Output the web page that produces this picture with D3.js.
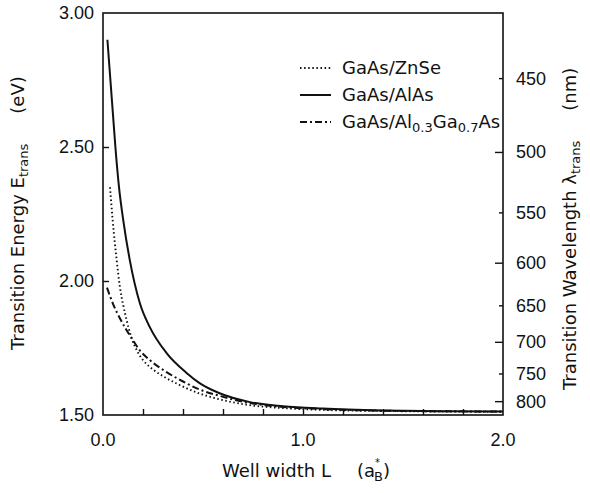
<!DOCTYPE html>
<html>
<head>
<meta charset="utf-8">
<script src="https://cdn.jsdelivr.net/npm/d3@7"></script>
<style>
  body { margin: 0; background: white; }
  #chart { width: 590px; height: 493px; }
  text { font-family: "DejaVu Sans", sans-serif; fill: #111; }
  text.num { font-family: "Liberation Sans", Arial, sans-serif; }
</style>
</head>
<body>
<div id="chart"></div>
<script>
// Well width L (a_B*) and transition energy (eV)
const alasL = [0.022, 0.05, 0.062, 0.08, 0.101, 0.134, 0.184, 0.234, 0.318, 0.418, 0.483, 0.58, 0.73, 0.9, 1.1, 1.4, 1.7, 2.0];
const alasE = [2.90, 2.62, 2.50, 2.35, 2.228, 2.078, 1.918, 1.828, 1.731, 1.657, 1.619, 1.582, 1.549, 1.533, 1.524, 1.517, 1.514, 1.513];

const znseL = [0.035, 0.048, 0.068, 0.085, 0.101, 0.118, 0.143, 0.17, 0.2, 0.25, 0.3, 0.383, 0.483, 0.58, 0.73, 0.9, 1.1, 1.4, 1.7, 2.0];
const znseE = [2.35, 2.23, 2.08, 1.975, 1.91, 1.854, 1.787, 1.74, 1.705, 1.67, 1.645, 1.612, 1.58, 1.559, 1.537, 1.526, 1.519, 1.515, 1.513, 1.512];

const algaL = [0.02, 0.05, 0.085, 0.115, 0.143, 0.18, 0.234, 0.318, 0.40, 0.483, 0.58, 0.73, 0.9, 1.1, 1.4, 1.7, 2.0];
const algaE = [1.975, 1.915, 1.86, 1.82, 1.787, 1.745, 1.705, 1.66, 1.625, 1.595, 1.572, 1.545, 1.530, 1.522, 1.516, 1.514, 1.513];

const xTicks = [0.2, 0.4, 0.6, 0.8, 1.0, 1.2, 1.4, 1.6, 1.8];
const xLabels = [0, 1, 2];
const yTicks = [2.0, 2.5];
const yLabels = [1.5, 2.0, 2.5, 3.0];
const nmTicks = [450, 500, 550, 600, 650, 700, 750, 800];
const hc = 1239.84; // eV nm

const margin = { top: 13, right: 87, bottom: 78, left: 103 },
    width = 590 - margin.left - margin.right,
    height = 493 - margin.top - margin.bottom;

const svg = d3.select("#chart")
    .append("svg")
    .attr("width", 590)
    .attr("height", 493)
    .append("g")
    .attr("transform", `translate(${margin.left},${margin.top})`);

const x = d3.scaleLinear().domain([0, 2]).range([0, width]);
const y = d3.scaleLinear().domain([1.5, 3.0]).range([height, 0]);

// frame
svg.append("rect")
    .attr("width", width)
    .attr("height", height)
    .attr("fill", "none")
    .attr("stroke", "#111")
    .attr("stroke-width", 1.6);

// bottom axis, ticks point inward
svg.append("g")
    .attr("transform", `translate(0,${height})`)
    .call(d3.axisBottom(x).tickValues(xTicks).tickSize(-6).tickFormat(""))
    .call(g => g.select(".domain").remove())
    .call(g => g.selectAll("line").attr("stroke", "#111").attr("stroke-width", 1.4));

svg.append("g").selectAll("text")
    .data(xLabels)
    .join("text")
    .attr("class", "num")
    .attr("x", d => x(d))
    .attr("y", height + 31)
    .attr("text-anchor", "middle")
    .style("font-size", "18px")
    .text(d3.format(".1f"));

// left axis
svg.append("g")
    .call(d3.axisLeft(y).tickValues(yTicks).tickSize(-6).tickFormat(""))
    .call(g => g.select(".domain").remove())
    .call(g => g.selectAll("line").attr("stroke", "#111").attr("stroke-width", 1.4));

svg.append("g").selectAll("text")
    .data(yLabels)
    .join("text")
    .attr("class", "num")
    .attr("x", -9)
    .attr("y", d => y(d) + 6)
    .attr("text-anchor", "end")
    .style("font-size", "18px")
    .text(d3.format(".2f"));

// right axis: wavelength, placed at E = hc / lambda
const nmY = nm => y(hc / nm);
const rightAxis = svg.append("g").attr("transform", `translate(${width},0)`);
rightAxis.selectAll("line")
    .data(nmTicks)
    .join("line")
    .attr("x1", d => d % 100 === 0 ? -8 : -4)
    .attr("x2", 0)
    .attr("y1", nmY)
    .attr("y2", nmY)
    .attr("stroke", "#111")
    .attr("stroke-width", 1.4);
rightAxis.selectAll("text")
    .data(nmTicks)
    .join("text")
    .attr("class", "num")
    .attr("x", 13)
    .attr("y", d => nmY(d) + 6)
    .style("font-size", "18px")
    .text(d => d);

// curves
const line = d3.line()
    .x(d => x(d[0]))
    .y(d => y(d[1]))
    .curve(d3.curveMonotoneX);

const series = [
    { name: "GaAs/ZnSe", L: znseL, E: znseE, dash: "1.5,2.6", w: 1.9 },
    { name: "GaAs/AlAs", L: alasL, E: alasE, dash: null, w: 2 },
    { name: "GaAs/AlGaAs", L: algaL, E: algaE, dash: "7,3,2,3", w: 2 }
];

series.forEach(s => {
    svg.append("path")
        .datum(s.L.map((l, i) => [l, s.E[i]]))
        .attr("fill", "none")
        .attr("stroke", "#111")
        .attr("stroke-width", s.w)
        .attr("stroke-dasharray", s.dash)
        .attr("d", line);
});

// legend
const legend = svg.append("g").attr("transform", "translate(197,55)");
series.forEach((s, i) => {
    legend.append("line")
        .attr("x1", 0).attr("x2", 31)
        .attr("y1", i * 27).attr("y2", i * 27)
        .attr("stroke", "#111")
        .attr("stroke-width", s.w)
        .attr("stroke-dasharray", s.dash);
});
legend.append("text").attr("x", 42).attr("y", 6).style("font-size", "18px").text("GaAs/ZnSe");
legend.append("text").attr("x", 42).attr("y", 33).style("font-size", "18px").text("GaAs/AlAs");
const lt = legend.append("text").attr("x", 42).attr("y", 60).style("font-size", "18px");
lt.append("tspan").text("GaAs/Al");
lt.append("tspan").attr("dy", 4).style("font-size", "13px").text("0.3");
lt.append("tspan").attr("dy", -4).text("Ga");
lt.append("tspan").attr("dy", 4).style("font-size", "13px").text("0.7");
lt.append("tspan").attr("dy", -4).text("As");

// axis titles (rotated, reading upward)
const yTitle = svg.append("text")
    .attr("transform", `translate(-79,${350 - margin.top}) rotate(-90)`)
    .style("font-size", "18px");
yTitle.append("tspan").text("Transition Energy E");
yTitle.append("tspan").attr("dy", 4).style("font-size", "13px").text("trans");
yTitle.append("tspan").attr("dy", -4).attr("dx", 30).text("(eV)");

const rTitle = svg.append("text")
    .attr("transform", `translate(${width + 73},${390 - margin.top}) rotate(-90)`)
    .style("font-size", "18px");
rTitle.append("tspan").text("Transition Wavelength λ");
rTitle.append("tspan").attr("dy", 4).style("font-size", "13px").text("trans");
rTitle.append("tspan").attr("dy", -4).attr("dx", 30).text("(nm)");

const xTitle = svg.append("text")
    .attr("x", 222 - margin.left)
    .attr("y", height + 62)
    .style("font-size", "18px");
xTitle.append("tspan").text("Well width L");
xTitle.append("tspan").attr("dx", 26).text("(a");
xTitle.append("tspan").attr("dy", -11).style("font-size", "10px").text("*");
xTitle.append("tspan").attr("dx", -6).attr("dy", 15).style("font-size", "13px").text("B");
xTitle.append("tspan").attr("dy", -4).text(")");
</script>
</body>
</html>
